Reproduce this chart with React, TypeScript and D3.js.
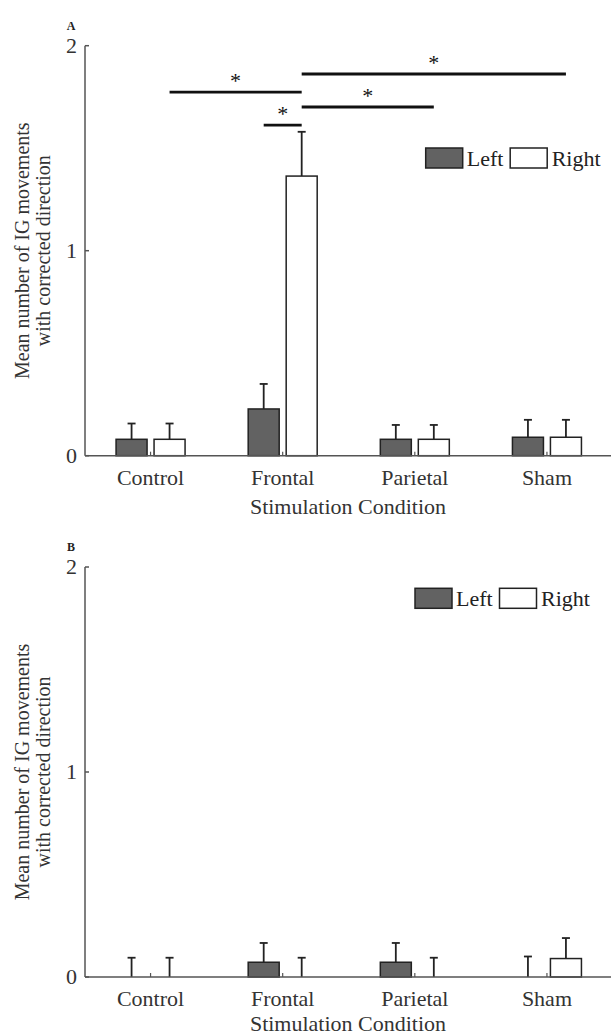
import React from "react";
import * as d3 from "d3";

const categories = ["Control", "Frontal", "Parietal", "Sham"];
const seriesNames = ["Left", "Right"];
const yTicks = [0, 1, 2];

// Panel A
const leftA = [0.08, 0.228, 0.08, 0.09];
const leftErrA = [0.077, 0.122, 0.07, 0.085];
const rightA = [0.08, 1.364, 0.08, 0.09];
const rightErrA = [0.077, 0.216, 0.07, 0.085];

// Panel B
const leftB = [0, 0.072, 0.072, 0];
const leftErrB = [0.094, 0.094, 0.094, 0.1];
const rightB = [0, 0, 0, 0.09];
const rightErrB = [0.094, 0.094, 0.094, 0.1];

// significance brackets for panel A
const sigFrom = [["Control", "Right"], ["Frontal", "Left"], ["Frontal", "Right"], ["Frontal", "Right"]];
const sigTo = [["Frontal", "Right"], ["Frontal", "Right"], ["Parietal", "Right"], ["Sham", "Right"]];
const sigLevel = [1.774, 1.613, 1.701, 1.862];

const FONT = "'Liberation Serif', 'Times New Roman', serif";
const AXIS = "#555";
const DARK = "#626262";

type PanelProps = {
  top: number;
  label: string;
  left: number[];
  leftErr: number[];
  right: number[];
  rightErr: number[];
  legendX: number;
  legendY: number;
  sig: boolean;
  titleOffset: number;
};

function Panel({ top, label, left, leftErr, right, rightErr, legendX, legendY, sig, titleOffset }: PanelProps) {
  const y0 = top + 410;
  const y2 = top;
  const y = d3.scaleLinear().domain([0, 2]).range([y0, y2]);
  const x = d3.scaleBand<string>().domain(categories).range([84.5, 613]).padding(0);
  const inner = d3.scaleBand<string>().domain(seriesNames).range([-34.5, 34.5]).paddingInner(0.184).paddingOuter(0);
  const axisX = 85;
  const center = (c: string) => (x(c) as number) + x.bandwidth() / 2;
  const barCenter = (c: string, s: string) => center(c) + (inner(s) as number) + inner.bandwidth() / 2;
  const series = [
    { name: "Left", vals: left, errs: leftErr, fill: DARK },
    { name: "Right", vals: right, errs: rightErr, fill: "#fff" },
  ];
  return (
    <g>
      <text x={71} y={top - 16} fontFamily={FONT} fontSize={12} fontWeight="bold" textAnchor="middle" fill="#222">
        {label}
      </text>
      <line x1={axisX} x2={axisX} y1={y(0)} y2={y(2)} stroke={AXIS} strokeWidth={1.5} />
      {yTicks.map((t) => (
        <g key={t}>
          <line x1={axisX} x2={axisX + 4} y1={y(t)} y2={y(t)} stroke={AXIS} strokeWidth={1.5} />
          <text x={77} y={y(t) + 7} fontFamily={FONT} fontSize={22} textAnchor="end" fill="#333">
            {t}
          </text>
        </g>
      ))}
      <text
        transform={`translate(29, ${(y0 + y2) / 2}) rotate(-90)`}
        fontFamily={FONT}
        fontSize={20}
        textAnchor="middle"
        fill="#333"
      >
        Mean number of IG movements
      </text>
      <text
        transform={`translate(50, ${(y0 + y2) / 2}) rotate(-90)`}
        fontFamily={FONT}
        fontSize={20}
        textAnchor="middle"
        fill="#333"
      >
        with corrected direction
      </text>
      {categories.map((c, i) => (
        <g key={c}>
          {series.map((s) => {
            const bx = center(c) + (inner(s.name) as number);
            const bw = inner.bandwidth();
            const cx = bx + bw / 2;
            const v = s.vals[i];
            const e = s.errs[i];
            return (
              <g key={s.name}>
                <line x1={cx} x2={cx} y1={y(v)} y2={y(v + e)} stroke="#222" strokeWidth={1.8} />
                <line x1={cx - 4} x2={cx + 4} y1={y(v + e)} y2={y(v + e)} stroke="#222" strokeWidth={1.8} />
                <rect x={bx} y={y(v)} width={bw} height={y(0) - y(v)} fill={s.fill} stroke="#222" strokeWidth={1.5} />
              </g>
            );
          })}
          <line x1={center(c)} x2={center(c)} y1={y(0)} y2={y(0) - 4} stroke={AXIS} strokeWidth={1.2} />
          <text x={center(c)} y={y0 + 29} fontFamily={FONT} fontSize={22} textAnchor="middle" fill="#333">
            {c}
          </text>
        </g>
      ))}
      <line x1={axisX} x2={611} y1={y(0)} y2={y(0)} stroke={AXIS} strokeWidth={1.5} />
      <text x={348} y={y0 + titleOffset} fontFamily={FONT} fontSize={22} textAnchor="middle" fill="#333">
        Stimulation Condition
      </text>
      <rect x={legendX} y={legendY} width={37} height={20} fill={DARK} stroke="#222" strokeWidth={1.5} />
      <text x={legendX + 41} y={legendY + 18} fontFamily={FONT} fontSize={22} fill="#222">
        Left
      </text>
      <rect x={legendX + 84.5} y={legendY} width={37} height={20} fill="#fff" stroke="#222" strokeWidth={1.5} />
      <text x={legendX + 126} y={legendY + 18} fontFamily={FONT} fontSize={22} fill="#222">
        Right
      </text>
      {sig &&
        sigLevel.map((lvl, k) => {
          const xa = barCenter(sigFrom[k][0], sigFrom[k][1]);
          const xb = barCenter(sigTo[k][0], sigTo[k][1]);
          return (
            <g key={k}>
              <line x1={xa} x2={xb} y1={y(lvl)} y2={y(lvl)} stroke="#111" strokeWidth={2.8} />
              <text x={(xa + xb) / 2} y={y(lvl) - 4} fontFamily={FONT} fontSize={22} textAnchor="middle" fill="#111">
                *
              </text>
            </g>
          );
        })}
    </g>
  );
}

export default function App() {
  return (
    <svg width={611} height={1036} style={{ position: "absolute", left: 0, top: 0, background: "#fff" }}>
      <rect width={611} height={1036} fill="#fff" />
      <Panel
        top={45.7}
        label="A"
        left={leftA}
        leftErr={leftErrA}
        right={rightA}
        rightErr={rightErrA}
        legendX={425.7}
        legendY={148}
        sig={true}
        titleOffset={58}
      />
      <Panel
        top={567}
        label="B"
        left={leftB}
        leftErr={leftErrB}
        right={rightB}
        rightErr={rightErrB}
        legendX={415}
        legendY={588.3}
        sig={false}
        titleOffset={54}
      />
    </svg>
  );
}
